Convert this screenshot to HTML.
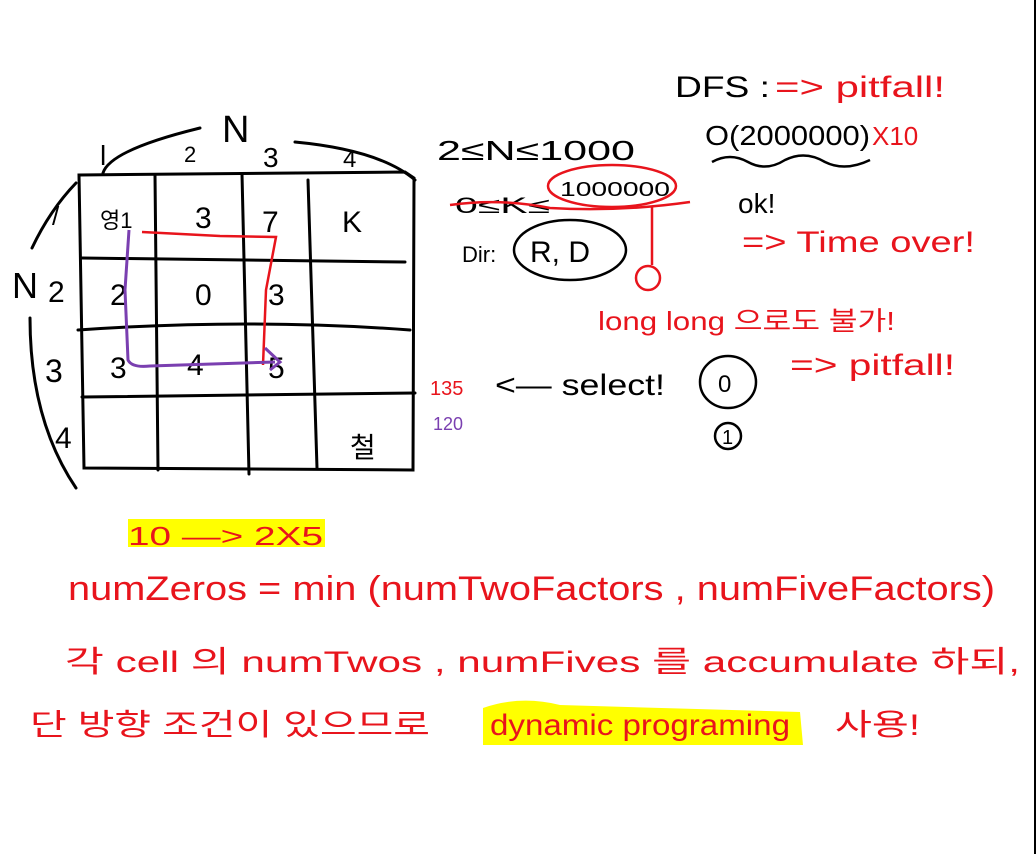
<!DOCTYPE html>
<html><head><meta charset="utf-8"><style>
html,body{margin:0;padding:0;background:#fff;width:1036px;height:854px;overflow:hidden}
svg{display:block}
text{font-family:"Liberation Sans","Noto Sans CJK KR",sans-serif}
</style></head><body>
<svg width="1036" height="854" viewBox="0 0 1036 854" xmlns="http://www.w3.org/2000/svg">
<rect x="1034" y="0" width="2" height="854" fill="#000"/>
<!-- grid -->
<g stroke="#000" stroke-width="3" fill="none" stroke-linecap="round">
<path d="M79 175 L405 172 L414 178 L413 470 L84 468 Z"/>
<path d="M155 175 L158 470"/><path d="M242 174 L249 474"/><path d="M308 180 L317 468"/>
<path d="M82 258 L405 262"/><path d="M78 330 Q250 318 410 330"/><path d="M82 397 L415 393"/>
<path d="M103 173 Q110 150 200 128"/><path d="M295 142 Q380 150 415 180"/>
<path d="M76 183 Q50 210 32 248"/><path d="M30 318 Q30 420 76 488"/>
</g>
<g fill="#000" font-size="30">
<text x="100" y="165" font-size="28">l</text>
<text x="184" y="162" font-size="22">2</text>
<text x="222" y="142" font-size="38">N</text>
<text x="263" y="167" font-size="28">3</text>
<text x="343" y="167" font-size="24">4</text>
<text x="52" y="225" font-size="26">/</text>
<text x="12" y="298" font-size="36">N</text>
<text x="48" y="302" font-size="30">2</text>
<text x="45" y="382" font-size="32">3</text>
<text x="55" y="448" font-size="30">4</text>
<text x="100" y="228" font-size="22">영1</text>
<text x="195" y="228">3</text><text x="262" y="232">7</text><text x="342" y="232">K</text>
<text x="110" y="305">2</text><text x="195" y="305">0</text><text x="268" y="305">3</text>
<text x="110" y="378">3</text><text x="187" y="375">4</text><text x="268" y="378">5</text>
<text x="350" y="457" font-size="28">철</text>
</g>
<path d="M142 232 L220 236 L276 237 L266 290 L263 365" stroke="#e8141c" stroke-width="2.5" fill="none"/>
<path d="M129 230 L125 290 L128 360 Q132 368 150 366 L275 362 M265 348 L280 362 L270 370" stroke="#7a3fb0" stroke-width="3" fill="none"/>
<text x="430" y="395" fill="#e8141c" font-size="20">135</text>
<text x="433" y="430" fill="#7a3fb0" font-size="18">120</text>
<g fill="#000">
<text x="437" y="160" font-size="28" textLength="198" lengthAdjust="spacingAndGlyphs">2≤N≤1000</text>
<text x="455" y="213" font-size="22" textLength="95" lengthAdjust="spacingAndGlyphs">0≤K≤</text>
<text x="560" y="196" font-size="20" textLength="110" lengthAdjust="spacingAndGlyphs">1000000</text>
<text x="462" y="262" font-size="22">Dir:</text>
<text x="530" y="262" font-size="30">R, D</text>
<text x="675" y="97" font-size="30" textLength="95" lengthAdjust="spacingAndGlyphs">DFS :</text>
<text x="705" y="145" font-size="28" textLength="165" lengthAdjust="spacingAndGlyphs">O(2000000)</text>
<text x="738" y="213" font-size="28">ok!</text>
<text x="495" y="395" font-size="30" textLength="170" lengthAdjust="spacingAndGlyphs">&lt;— select!</text>
<text x="718" y="392" font-size="24">0</text>
<text x="722" y="444" font-size="20">1</text>
</g>
<g stroke="#000" stroke-width="2.5" fill="none">
<ellipse cx="570" cy="250" rx="56" ry="30"/>
<path d="M712 162 Q730 152 748 162 Q766 172 785 160 Q805 150 825 162 Q845 172 870 160"/>
<ellipse cx="728" cy="382" rx="28" ry="26"/>
<circle cx="728" cy="436" r="13"/>
</g>
<g stroke="#e8141c" stroke-width="2.5" fill="none">
<ellipse cx="612" cy="186" rx="64" ry="21"/>
<path d="M450 205 Q500 198 550 208 Q620 212 690 202"/>
<path d="M652 207 L652 265"/>
<circle cx="648" cy="278" r="12"/>
</g>
<g fill="#e8141c">
<text x="775" y="97" font-size="30" textLength="170" lengthAdjust="spacingAndGlyphs">=&gt; pitfall!</text>
<text x="872" y="145" font-size="26">X10</text>
<text x="742" y="252" font-size="30" textLength="233" lengthAdjust="spacingAndGlyphs">=&gt; Time over!</text>
<text x="598" y="330" font-size="26" textLength="297" lengthAdjust="spacingAndGlyphs">long long 으로도 불가!</text>
<text x="790" y="375" font-size="30" textLength="165" lengthAdjust="spacingAndGlyphs">=&gt; pitfall!</text>
</g>
<rect x="128" y="519" width="197" height="28" fill="#ffff00"/>
<path d="M483 708 Q520 695 560 705 L800 712 L803 745 L483 745 Z" fill="#ffff00"/>
<g fill="#e8141c">
<text x="128" y="545" font-size="26" textLength="195" lengthAdjust="spacingAndGlyphs">10 —&gt; 2X5</text>
<text x="68" y="600" font-size="34" textLength="927" lengthAdjust="spacingAndGlyphs">numZeros = min (numTwoFactors , numFiveFactors)</text>
<text x="65" y="672" font-size="30" textLength="955" lengthAdjust="spacingAndGlyphs">각 cell 의 numTwos , numFives 를 accumulate 하되,</text>
<text x="30" y="735" font-size="30" textLength="400" lengthAdjust="spacingAndGlyphs">단 방향 조건이 있으므로</text>
<text x="490" y="735" font-size="30" textLength="300" lengthAdjust="spacingAndGlyphs">dynamic programing</text>
<text x="835" y="735" font-size="30" textLength="85" lengthAdjust="spacingAndGlyphs">사용!</text>
</g>
</svg>
</body></html>
